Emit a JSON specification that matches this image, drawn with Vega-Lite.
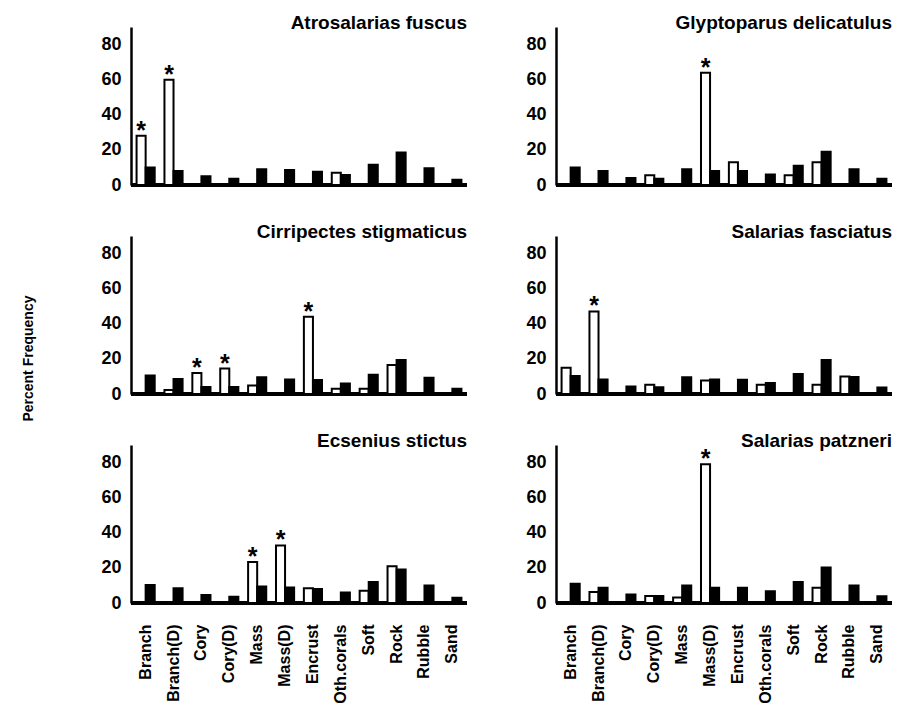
{
  "$schema": "https://vega.github.io/schema/vega-lite/v6.json",
  "background": "white",
  "padding": {"left": 21, "top": 14, "right": 5, "bottom": 2},
  "title": {"text": "Percent Frequency", "orient": "left", "anchor": "middle", "fontSize": 14, "fontWeight": "bold", "font": "Liberation Sans", "color": "black", "offset": 65},
  "data": {"values": [
    {"species": "Atrosalarias fuscus", "habitat": "Branch", "use": 28, "avail": 10, "sig": true},
    {"species": "Atrosalarias fuscus", "habitat": "Branch(D)", "use": 60, "avail": 8, "sig": true},
    {"species": "Atrosalarias fuscus", "habitat": "Cory", "use": null, "avail": 5, "sig": false},
    {"species": "Atrosalarias fuscus", "habitat": "Cory(D)", "use": null, "avail": 3.5, "sig": false},
    {"species": "Atrosalarias fuscus", "habitat": "Mass", "use": null, "avail": 9, "sig": false},
    {"species": "Atrosalarias fuscus", "habitat": "Mass(D)", "use": null, "avail": 8.5, "sig": false},
    {"species": "Atrosalarias fuscus", "habitat": "Encrust", "use": null, "avail": 7.5, "sig": false},
    {"species": "Atrosalarias fuscus", "habitat": "Oth.corals", "use": 7, "avail": 5.7, "sig": false},
    {"species": "Atrosalarias fuscus", "habitat": "Soft", "use": null, "avail": 11.5, "sig": false},
    {"species": "Atrosalarias fuscus", "habitat": "Rock", "use": null, "avail": 18.5, "sig": false},
    {"species": "Atrosalarias fuscus", "habitat": "Rubble", "use": null, "avail": 9.5, "sig": false},
    {"species": "Atrosalarias fuscus", "habitat": "Sand", "use": null, "avail": 3, "sig": false},

    {"species": "Glyptoparus delicatulus", "habitat": "Branch", "use": null, "avail": 10, "sig": false},
    {"species": "Glyptoparus delicatulus", "habitat": "Branch(D)", "use": null, "avail": 8, "sig": false},
    {"species": "Glyptoparus delicatulus", "habitat": "Cory", "use": null, "avail": 4, "sig": false},
    {"species": "Glyptoparus delicatulus", "habitat": "Cory(D)", "use": 5.5, "avail": 3.5, "sig": false},
    {"species": "Glyptoparus delicatulus", "habitat": "Mass", "use": null, "avail": 9, "sig": false},
    {"species": "Glyptoparus delicatulus", "habitat": "Mass(D)", "use": 64, "avail": 8, "sig": true},
    {"species": "Glyptoparus delicatulus", "habitat": "Encrust", "use": 13, "avail": 8, "sig": false},
    {"species": "Glyptoparus delicatulus", "habitat": "Oth.corals", "use": null, "avail": 6, "sig": false},
    {"species": "Glyptoparus delicatulus", "habitat": "Soft", "use": 5.5, "avail": 11, "sig": false},
    {"species": "Glyptoparus delicatulus", "habitat": "Rock", "use": 13, "avail": 19, "sig": false},
    {"species": "Glyptoparus delicatulus", "habitat": "Rubble", "use": null, "avail": 9, "sig": false},
    {"species": "Glyptoparus delicatulus", "habitat": "Sand", "use": null, "avail": 3.5, "sig": false},

    {"species": "Cirripectes stigmaticus", "habitat": "Branch", "use": null, "avail": 10.5, "sig": false},
    {"species": "Cirripectes stigmaticus", "habitat": "Branch(D)", "use": 2.3, "avail": 8.5, "sig": false},
    {"species": "Cirripectes stigmaticus", "habitat": "Cory", "use": 12, "avail": 4, "sig": true},
    {"species": "Cirripectes stigmaticus", "habitat": "Cory(D)", "use": 14.5, "avail": 4, "sig": true},
    {"species": "Cirripectes stigmaticus", "habitat": "Mass", "use": 4.8, "avail": 9.5, "sig": false},
    {"species": "Cirripectes stigmaticus", "habitat": "Mass(D)", "use": null, "avail": 8.3, "sig": false},
    {"species": "Cirripectes stigmaticus", "habitat": "Encrust", "use": 44, "avail": 8, "sig": true},
    {"species": "Cirripectes stigmaticus", "habitat": "Oth.corals", "use": 3, "avail": 6, "sig": false},
    {"species": "Cirripectes stigmaticus", "habitat": "Soft", "use": 3, "avail": 11, "sig": false},
    {"species": "Cirripectes stigmaticus", "habitat": "Rock", "use": 16.5, "avail": 19.3, "sig": false},
    {"species": "Cirripectes stigmaticus", "habitat": "Rubble", "use": null, "avail": 9.3, "sig": false},
    {"species": "Cirripectes stigmaticus", "habitat": "Sand", "use": null, "avail": 3, "sig": false},

    {"species": "Salarias fasciatus", "habitat": "Branch", "use": 15, "avail": 10.2, "sig": false},
    {"species": "Salarias fasciatus", "habitat": "Branch(D)", "use": 47, "avail": 8.3, "sig": true},
    {"species": "Salarias fasciatus", "habitat": "Cory", "use": null, "avail": 4.3, "sig": false},
    {"species": "Salarias fasciatus", "habitat": "Cory(D)", "use": 5.2, "avail": 3.9, "sig": false},
    {"species": "Salarias fasciatus", "habitat": "Mass", "use": null, "avail": 9.5, "sig": false},
    {"species": "Salarias fasciatus", "habitat": "Mass(D)", "use": 7.7, "avail": 8.3, "sig": false},
    {"species": "Salarias fasciatus", "habitat": "Encrust", "use": null, "avail": 8.1, "sig": false},
    {"species": "Salarias fasciatus", "habitat": "Oth.corals", "use": 5.2, "avail": 6.2, "sig": false},
    {"species": "Salarias fasciatus", "habitat": "Soft", "use": null, "avail": 11.4, "sig": false},
    {"species": "Salarias fasciatus", "habitat": "Rock", "use": 5.2, "avail": 19.3, "sig": false},
    {"species": "Salarias fasciatus", "habitat": "Rubble", "use": 10, "avail": 9.7, "sig": false},
    {"species": "Salarias fasciatus", "habitat": "Sand", "use": null, "avail": 3.7, "sig": false},

    {"species": "Ecsenius stictus", "habitat": "Branch", "use": null, "avail": 10.3, "sig": false},
    {"species": "Ecsenius stictus", "habitat": "Branch(D)", "use": null, "avail": 8.4, "sig": false},
    {"species": "Ecsenius stictus", "habitat": "Cory", "use": null, "avail": 4.5, "sig": false},
    {"species": "Ecsenius stictus", "habitat": "Cory(D)", "use": null, "avail": 3.5, "sig": false},
    {"species": "Ecsenius stictus", "habitat": "Mass", "use": 23.4, "avail": 9.4, "sig": true},
    {"species": "Ecsenius stictus", "habitat": "Mass(D)", "use": 32.8, "avail": 8.8, "sig": true},
    {"species": "Ecsenius stictus", "habitat": "Encrust", "use": 8.4, "avail": 8, "sig": false},
    {"species": "Ecsenius stictus", "habitat": "Oth.corals", "use": null, "avail": 6, "sig": false},
    {"species": "Ecsenius stictus", "habitat": "Soft", "use": 7, "avail": 11.9, "sig": false},
    {"species": "Ecsenius stictus", "habitat": "Rock", "use": 21, "avail": 19.1, "sig": false},
    {"species": "Ecsenius stictus", "habitat": "Rubble", "use": null, "avail": 10, "sig": false},
    {"species": "Ecsenius stictus", "habitat": "Sand", "use": null, "avail": 3, "sig": false},

    {"species": "Salarias patzneri", "habitat": "Branch", "use": null, "avail": 10.9, "sig": false},
    {"species": "Salarias patzneri", "habitat": "Branch(D)", "use": 6.3, "avail": 8.7, "sig": false},
    {"species": "Salarias patzneri", "habitat": "Cory", "use": null, "avail": 4.8, "sig": false},
    {"species": "Salarias patzneri", "habitat": "Cory(D)", "use": 4, "avail": 4, "sig": false},
    {"species": "Salarias patzneri", "habitat": "Mass", "use": 3.2, "avail": 9.9, "sig": false},
    {"species": "Salarias patzneri", "habitat": "Mass(D)", "use": 79, "avail": 8.7, "sig": true},
    {"species": "Salarias patzneri", "habitat": "Encrust", "use": null, "avail": 8.7, "sig": false},
    {"species": "Salarias patzneri", "habitat": "Oth.corals", "use": null, "avail": 6.7, "sig": false},
    {"species": "Salarias patzneri", "habitat": "Soft", "use": null, "avail": 11.9, "sig": false},
    {"species": "Salarias patzneri", "habitat": "Rock", "use": 8.7, "avail": 20.2, "sig": false},
    {"species": "Salarias patzneri", "habitat": "Rubble", "use": null, "avail": 9.9, "sig": false},
    {"species": "Salarias patzneri", "habitat": "Sand", "use": null, "avail": 3.8, "sig": false}
  ]},
  "transform": [{"fold": ["use", "avail"], "as": ["group", "value"]}],
  "facet": {
    "field": "species", "type": "nominal",
    "sort": ["Atrosalarias fuscus", "Glyptoparus delicatulus", "Cirripectes stigmaticus", "Salarias fasciatus", "Ecsenius stictus", "Salarias patzneri"],
    "title": null,
    "header": {"labelFontSize": 19, "labelFontWeight": "bold", "labelFont": "Liberation Sans", "labelAnchor": "end", "labelOrient": "top", "labelPadding": -6, "labelColor": "black"}
  },
  "columns": 2,
  "spacing": {"row": 29, "column": 56},
  "resolve": {"axis": {"y": "independent"}},
  "spec": {
    "width": 336,
    "height": 158,
    "layer": [
      {
        "mark": {"type": "rule", "stroke": "black", "strokeWidth": 2.5},
        "encoding": {"y": {"datum": 0, "type": "quantitative"}}
      },
      {
        "mark": {"type": "bar", "stroke": "black", "strokeWidth": 2},
        "encoding": {
          "x": {"field": "habitat", "type": "nominal",
                "sort": ["Branch", "Branch(D)", "Cory", "Cory(D)", "Mass", "Mass(D)", "Encrust", "Oth.corals", "Soft", "Rock", "Rubble", "Sand"],
                "scale": {"paddingInner": 0.35, "paddingOuter": 0.2},
                "axis": {"title": null}},
          "xOffset": {"field": "group", "type": "nominal", "sort": ["use", "avail"]},
          "y": {"field": "value", "type": "quantitative", "scale": {"domain": [0, 90], "nice": false},
                "axis": {"title": null, "tickCount": 5}},
          "fill": {"field": "group", "type": "nominal", "scale": {"domain": ["use", "avail"], "range": ["white", "black"]}, "legend": null}
        }
      },
      {
        "transform": [{"filter": "datum.sig && datum.group == 'use'"}],
        "mark": {"type": "text", "text": "*", "font": "Liberation Sans", "fontSize": 25, "fontWeight": "bold", "baseline": "alphabetic", "align": "center", "dy": 3, "color": "black"},
        "encoding": {
          "x": {"field": "habitat", "type": "nominal", "sort": ["Branch", "Branch(D)", "Cory", "Cory(D)", "Mass", "Mass(D)", "Encrust", "Oth.corals", "Soft", "Rock", "Rubble", "Sand"]},
          "xOffset": {"field": "group", "type": "nominal", "sort": ["use", "avail"]},
          "y": {"field": "value", "type": "quantitative"}
        }
      }
    ]
  },
  "config": {
    "view": {"stroke": null},
    "font": "Liberation Sans",
    "axisX": {"domain": false, "ticks": false, "grid": false, "labelAngle": -90, "labelFontSize": 16, "labelFontWeight": "bold", "labelFont": "Liberation Sans", "labelColor": "black", "labelPadding": 12, "labelOverlap": false},
    "axisY": {"grid": false, "ticks": false, "domainColor": "black", "domainWidth": 2.5, "labelFontSize": 18, "labelFontWeight": "bold", "labelFont": "Liberation Sans", "labelColor": "black", "labelPadding": 10, "labelOverlap": false}
  }
}
